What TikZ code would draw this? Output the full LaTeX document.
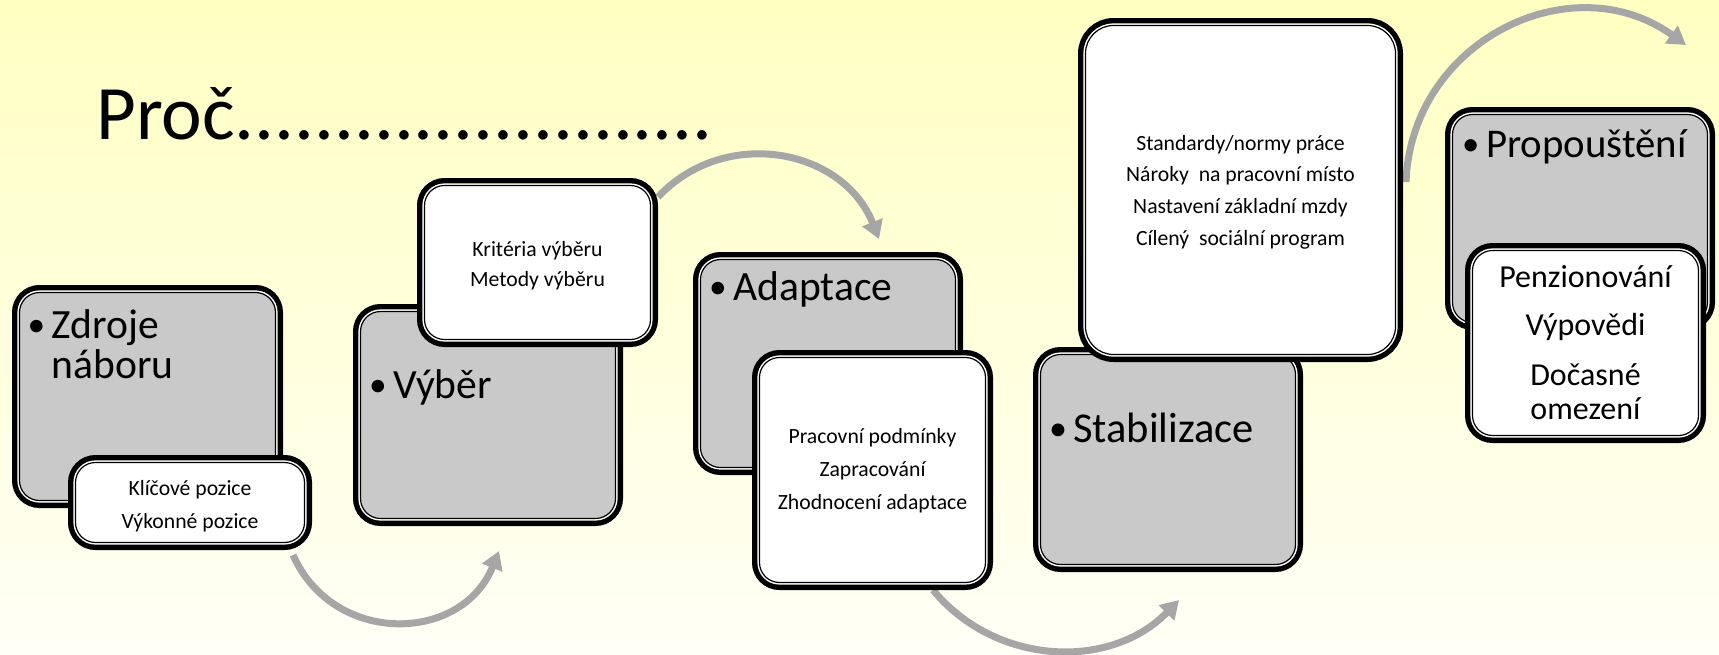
\documentclass[tikz,border=0pt]{standalone}
\usepackage{fontspec}
\setmainfont{Carlito}
\usetikzlibrary{arrows.meta}
\definecolor{bgtop}{RGB}{255,255,194}
\definecolor{bgbot}{RGB}{255,255,246}
\definecolor{boxgray}{RGB}{201,201,201}
\definecolor{arrgray}{RGB}{166,166,166}
\newcommand\bul{\makebox[24pt][l]{\raisebox{1.5pt}{\scalebox{0.85}{\textbullet}}}}
\begin{document}
\begin{tikzpicture}[x=1pt,y=1pt,
  boxbase/.style={rounded corners=20pt, draw=black, line width=1.2pt,
    preaction={draw=black,line width=15pt},
    preaction={draw=white,line width=4.2pt},
    inner sep=0pt, anchor=center},
  graybox/.style={boxbase, fill=boxgray},
  whitebox/.style={boxbase, fill=white},
  wtext/.style={align=center, inner sep=0pt, font={\fontsize{21.7pt}{31pt}\selectfont}},
  lbl/.style={anchor=base west, inner sep=0pt, font={\fontsize{41.6pt}{40pt}\selectfont}},
  flow/.style={draw=arrgray, line width=7pt, -{Triangle[width=21pt,length=18pt]}}]

% background
\fill[top color=bgtop, bottom color=bgbot] (0,-654) rectangle (1719,0);
\useasboundingbox (0,-654) rectangle (1719,0);

% title
\node[anchor=base west, inner sep=0pt, font={\fontsize{77pt}{80pt}\selectfont}] (title) at (96,-139) {Proč{\fontsize{79pt}{80pt}\selectfont ........................}};

% arrows (behind boxes)
\coordinate (a1s) at (293,-555); \coordinate (a1e) at (499,-551);
\coordinate (a2s) at (658,-197); \coordinate (a2e) at (879,-239);
\coordinate (a3s) at (933,-590); \coordinate (a3e) at (1179,-600);
\coordinate (a4s) at (1406,-182); \coordinate (a4e) at (1686,-45);
\draw[flow] (a1s) .. controls (333.6,-646.1) and (461.6,-643.4) .. (a1e);
\draw[flow] (a2s) .. controls (724.9,-125.8) and (842.9,-148.2) .. (a2e);
\draw[flow] (a3s) .. controls (995.7,-665.9) and (1110.4,-670.6) .. (a3e);
\draw[flow] (a4s) .. controls (1411.2,-41) and (1571.4,37.4) .. (a4e);

% gray boxes
\node[graybox, minimum width=256pt, minimum height=208pt] (g1) at (147.5,-396.5) {};
\node[graybox, minimum width=255pt, minimum height=207pt] (g2) at (488,-415) {};
\node[graybox, minimum width=255pt, minimum height=208pt] (g3) at (828,-363.5) {};
\node[graybox, minimum width=255pt, minimum height=210pt] (g4) at (1168,-459.5) {};
\node[graybox, minimum width=255pt, minimum height=208pt] (g5) at (1580,-218.5) {};

% gray box labels
\node[lbl] (t1) at (27.5,-338) {\bul\begin{tabular}[t]{@{}l@{}}Zdroje\\náboru\end{tabular}};
\node[lbl] (t2) at (369,-398) {\bul Výběr};
\node[lbl] (t3) at (709,-300) {\bul Adaptace};
\node[lbl, font={\fontsize{42.5pt}{40pt}\selectfont}] (t4) at (1049,-442) {\bul Stabilizace};
\node[lbl, font={\fontsize{40.8pt}{40pt}\selectfont}] (t5) at (1462,-157) {\bul Propouštění};

% white boxes
\node[whitebox, minimum width=229pt, minimum height=80pt] (w1) at (190,-502.5) {};
\node[whitebox, minimum width=226pt, minimum height=154pt] (w2) at (537.5,-262.5) {};
\node[whitebox, minimum width=226pt, minimum height=225pt] (w3) at (872.5,-470) {};
\node[whitebox, rounded corners=28pt, minimum width=310pt, minimum height=329pt] (w4) at (1240.5,-190) {};
\node[whitebox, minimum width=226pt, minimum height=185pt] (w5) at (1585.5,-343) {};

% white box texts
\node[wtext, font={\fontsize{21.7pt}{33pt}\selectfont}] (x1) at ([yshift=-4pt]w1.center) {Klíčové pozice\\Výkonné pozice};
\node[wtext, font={\fontsize{21.7pt}{30.5pt}\selectfont}] (x2) at ([yshift=-3pt]w2.center) {Kritéria výběru\\Metody výběru};
\node[wtext, font={\fontsize{21.7pt}{33pt}\selectfont}] (x3) at ([yshift=-1pt]w3.center) {Pracovní podmínky\\Zapracování\\Zhodnocení adaptace};
\node[wtext, font={\fontsize{21.7pt}{31.7pt}\selectfont}] (x4) at ([yshift=-2pt]w4.center) {Standardy/normy práce\\Nároky~ na pracovní místo\\Nastavení základní mzdy\\Cílený~ sociální program};
\node[wtext, font={\fontsize{32pt}{34pt}\selectfont}] (x5) at (w5.center) {Penzionování\\[14pt]Výpovědi\\[16pt]Dočasné\\omezení};
\end{tikzpicture}
\end{document}
